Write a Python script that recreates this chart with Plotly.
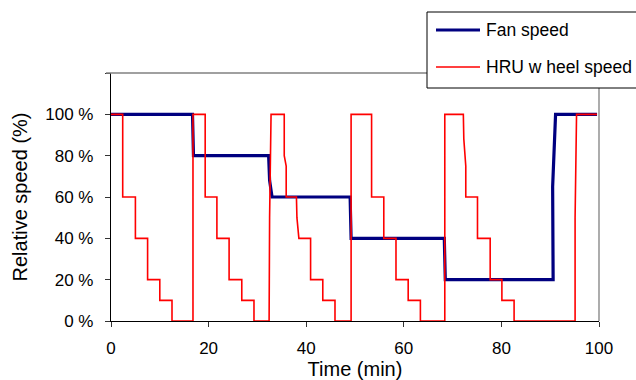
import plotly.graph_objects as go

# Fan speed (%) over time (min), as polyline vertices of the step profile
fan_t = [0, 16.7, 16.9, 32.3, 32.5, 33.0, 49.0, 49.2, 68.3, 68.5, 90.6, 90.5, 91.1, 99.6]
fan_v = [100, 100, 80, 80, 68, 60, 60, 40, 40, 20, 20, 65, 100, 100]

# Heat recovery wheel speed (%) over time (min)
hru_t = [0, 2.4, 2.4, 5.0, 5.0, 7.5, 7.5, 10.0, 10.0, 12.5, 12.5, 16.8, 16.8, 19.3, 19.3,
         21.7, 21.7, 24.2, 24.2, 26.8, 26.8, 29.3, 29.3, 32.4, 32.5, 32.8, 35.5, 35.5,
         35.9, 35.9, 38.0, 38.1, 38.5, 40.9, 40.9, 43.4, 43.4, 45.9, 45.9, 49.2, 49.2,
         53.4, 53.4, 55.9, 55.9, 58.4, 58.4, 60.9, 60.9, 63.4, 63.4, 68.4, 68.4, 72.2,
         72.3, 72.7, 72.7, 75.1, 75.1, 77.7, 77.7, 80.1, 80.1, 82.6, 82.6, 95.1, 95.1,
         95.4, 99.6]
hru_v = [100, 100, 60, 60, 40, 40, 20, 20, 10, 10, 0, 0, 100, 100, 60, 60, 40, 40, 20, 20,
         10, 10, 0, 0, 50, 100, 100, 80, 75, 60, 60, 50, 40, 40, 20, 20, 10, 10, 0, 0, 100,
         100, 60, 60, 40, 40, 20, 20, 10, 10, 0, 0, 100, 100, 88, 75, 60, 60, 40, 40, 20,
         20, 10, 10, 0, 0, 50, 100, 100]

x_ticks = [0, 20, 40, 60, 80, 100]
y_ticks = [0, 20, 40, 60, 80, 100, 120]
y_labels = ["0 %", "20 %", "40 %", "60 %", "80 %", "100 %", ""]

series_names = ["Fan speed", "HRU w heel speed"]
series_colors = ["#000080", "#ff0000"]
series_widths = [3.2, 1.6]

W, H = 636, 380
L, R, T, B = 111, 37, 73, 59
FONT = "Liberation Sans, Arial, sans-serif"

fig = go.Figure()
fig.add_trace(go.Scatter(x=fan_t, y=fan_v, mode="lines", name=series_names[0],
                         line=dict(color=series_colors[0], width=series_widths[0])))
fig.add_trace(go.Scatter(x=hru_t, y=hru_v, mode="lines", name=series_names[1],
                         line=dict(color=series_colors[1], width=series_widths[1])))


def px(xp):
    return (xp - L) / (W - L - R)


def py(yp):
    return (H - B - yp) / (H - T - B)


shapes = [
    # grey frame on top and right of the plot area
    dict(type="line", xref="paper", yref="paper", x0=px(106), x1=1, y0=1, y1=1,
         line=dict(color="#808080", width=1.3)),
    dict(type="line", xref="paper", yref="paper", x0=1, x1=1, y0=0, y1=1,
         line=dict(color="#808080", width=1.3)),
    # legend box
    dict(type="rect", xref="paper", yref="paper", x0=px(427), x1=px(645), y0=py(88), y1=py(12),
         fillcolor="white", line=dict(color="black", width=1)),
]
annotations = []
for i, (name, col, w) in enumerate(zip(series_names, series_colors, series_widths)):
    yc = 30 + i * 37
    shapes.append(dict(type="line", xref="paper", yref="paper", x0=px(436), x1=px(480),
                       y0=py(yc), y1=py(yc), line=dict(color=col, width=w)))
    annotations.append(dict(xref="paper", yref="paper", x=px(484), y=py(yc), text=name,
                            showarrow=False, xanchor="left", yanchor="middle",
                            font=dict(family=FONT, size=17.5, color="black")))

fig.update_layout(
    width=W, height=H,
    margin=dict(l=L, r=R, t=T, b=B),
    paper_bgcolor="white", plot_bgcolor="white",
    showlegend=False,
    font=dict(family=FONT, size=17, color="black"),
    shapes=shapes, annotations=annotations,
    xaxis=dict(range=[0, 100], tickvals=x_ticks, ticks="outside", ticklen=5,
               tickcolor="#333", showline=True, linecolor="black", linewidth=1.3,
               showgrid=False, zeroline=False, ticklabelstandoff=6, automargin=False,
               title=dict(text="Time (min)", standoff=10)),
    yaxis=dict(range=[0, 120], tickvals=y_ticks, ticktext=y_labels, ticks="outside",
               ticklen=5, tickcolor="#333", showline=True, linecolor="black", linewidth=1.3,
               showgrid=False, zeroline=False, ticklabelstandoff=8, automargin=False,
               title=dict(text="Relative speed (%)", standoff=12)),
)

fig.write_html("out.html")
